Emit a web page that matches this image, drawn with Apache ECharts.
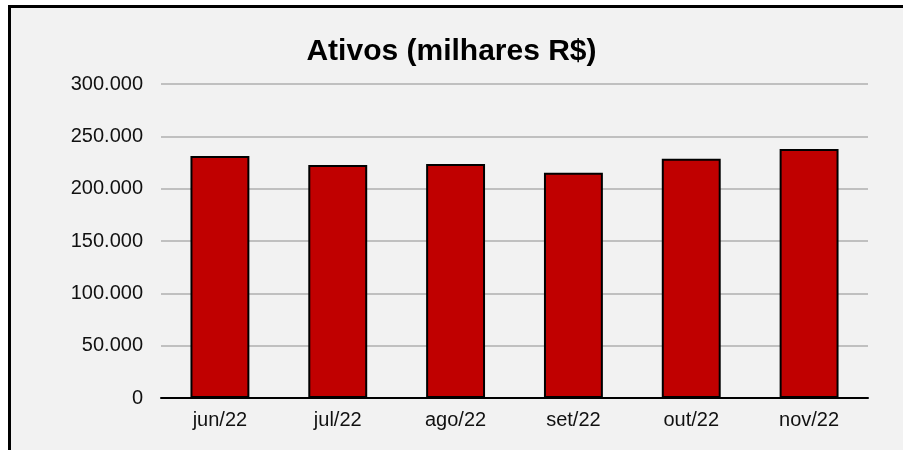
<!DOCTYPE html>
<html>
<head>
<meta charset="utf-8">
<script src="https://cdn.jsdelivr.net/npm/echarts@6/dist/echarts.min.js"></script>
<style>
  html, body { margin: 0; padding: 0; background: #ffffff; }
  #frame {
    position: absolute; left: 8px; top: 5px; right: 0; bottom: -10px;
    background: #f2f2f2; border-left: 3px solid #000; border-top: 3px solid #000;
  }
  #main { position: absolute; left: 0; top: 0; width: 903px; height: 450px; }
</style>
</head>
<body>
<div id="frame"></div>
<div id="main"></div>
<script>
// dados do gráfico
var meses = ['jun/22', 'jul/22', 'ago/22', 'set/22', 'out/22', 'nov/22'];
var ativos = [231200, 222600, 223600, 215300, 228600, 237900];

var myChart = echarts.init(document.getElementById('main'));

function milhar(v) {
  return String(v).replace(/\B(?=(\d{3})+(?!\d))/g, '.');
}

var option = {
  backgroundColor: 'transparent',
  textStyle: { fontFamily: 'Liberation Sans, Arial, sans-serif' },
  title: {
    text: 'Ativos (milhares R$)',
    left: 'center',
    top: 32,
    textStyle: { fontSize: 30, fontWeight: 'bold', color: '#000' }
  },
  grid: { left: 161, right: 35, top: 84, bottom: 52 },
  xAxis: {
    type: 'category',
    data: meses,
    axisLine: { lineStyle: { color: '#000', width: 2 } },
    axisTick: { length: 6, lineStyle: { color: '#000', width: 2 } },
    axisLabel: { fontSize: 20, color: '#111', margin: 12 }
  },
  yAxis: {
    type: 'value',
    min: 0,
    max: 300000,
    interval: 50000,
    axisLine: { show: false },
    axisTick: { show: false },
    splitLine: { lineStyle: { color: '#c0c0c0', width: 2 } },
    axisLabel: { fontSize: 20, color: '#111', margin: 18, formatter: milhar }
  },
  series: [
    {
      type: 'bar',
      data: ativos,
      barCategoryGap: '50%',
      itemStyle: { color: '#c00000', borderColor: '#000', borderWidth: 2 },
      animation: false
    }
  ]
};

myChart.setOption(option);
</script>
</body>
</html>
